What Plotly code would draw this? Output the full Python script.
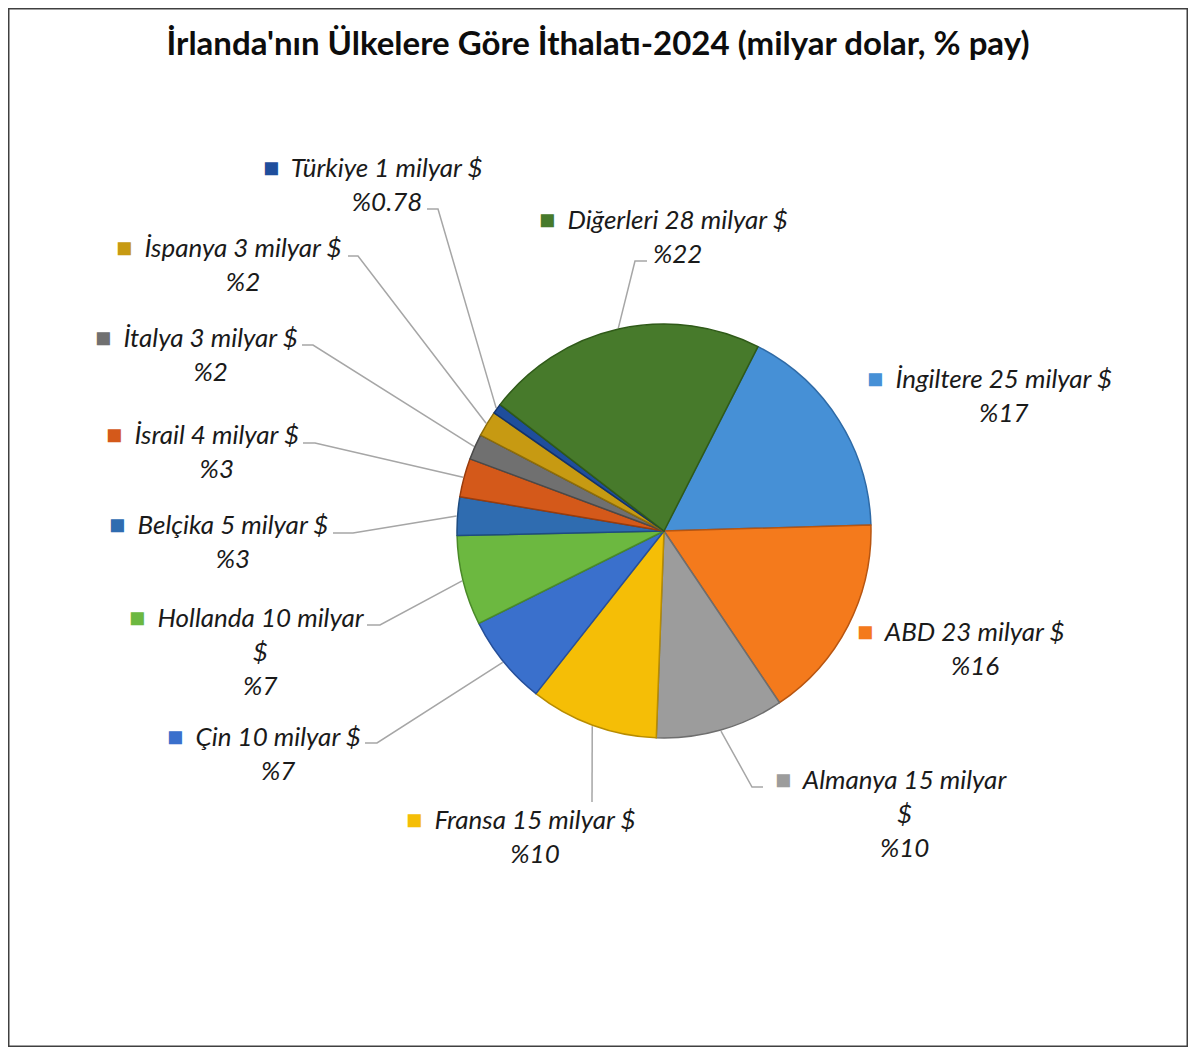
import math

import plotly.graph_objects as go

# --- data -------------------------------------------------------------
countries = [
    "İngiltere", "ABD", "Almanya", "Fransa", "Çin", "Hollanda",
    "Belçika", "İsrail", "İtalya", "İspanya", "Türkiye", "Diğerleri",
]
import_bn = [25, 23, 15, 15, 10, 10, 5, 4, 3, 3, 1, 28]
share_pct = [17, 16, 10, 10, 7, 7, 3, 3, 2, 2, 0.78, 22]

colors = [
    "#4690D6", "#F47A1C", "#9C9C9C", "#F5BE06", "#3A70CC", "#6CB840",
    "#2F6CB0", "#D4591A", "#707070", "#C79A12", "#1F4E9C", "#477A2B",
]
edge_colors = [
    "#2E6AA6", "#B85510", "#6E6E6E", "#B88C00", "#264F99", "#4A8A28",
    "#1E4C80", "#9A3C0C", "#4A4A4A", "#8E6D08", "#12326A", "#2F5A18",
]

# labels that Excel wrapped before the "$"
wrapped = {"Almanya", "Hollanda"}

# --- layout geometry (reference pixels) -------------------------------
W, H = 1196, 1055
BODY = 8                      # default page margin of the html body
FW, FH = W - 2 * BODY, H - 2 * BODY
CX, CY, R = 664, 531, 207     # pie centre and radius
ROTATION = 27

# first-line centre of every label (text only, without the key square)
label_pos = {
    "İngiltere": (1004, 379), "ABD": (975, 632), "Almanya": (905, 780),
    "Fransa": (535, 820), "Çin": (278, 737), "Hollanda": (260, 618),
    "Belçika": (233, 525), "İsrail": (217, 435), "İtalya": (210, 338),
    "İspanya": (243, 248), "Türkiye": (387, 168), "Diğerleri": (677, 220),
}
# leader lines: elbow point and end x of the short horizontal piece
leaders = {
    "Almanya": ((752, 787), 763), "Fransa": ((592, 802), 592),
    "Çin": ((377, 743), 365), "Hollanda": ((380, 625), 367),
    "Belçika": ((353, 533), 333), "İsrail": ((315, 443), 303),
    "İtalya": ((313, 345), 302), "İspanya": ((358, 256), 348),
    "Türkiye": ((438, 209), 427), "Diğerleri": ((635, 261), 647),
}
LINE_GAP = 33.8
TEXT_SHIFT = -1


def px(x, y):
    return (x - BODY) / FW, 1 - (y - BODY) / FH


fig = go.Figure()

x0, y1 = px(CX - R, CY - R)
x1, y0 = px(CX + R, CY + R)
fig.add_trace(
    go.Pie(
        labels=countries,
        values=share_pct,
        customdata=import_bn,
        sort=False,
        direction="clockwise",
        rotation=ROTATION,
        marker=dict(colors=colors, line=dict(color=edge_colors, width=1.5)),
        textinfo="none",
        hovertemplate="%{label}: %{customdata} milyar $<br>%%{value}<extra></extra>",
        showlegend=False,
        domain=dict(x=[x0, x1], y=[y0, y1]),
    )
)

total = sum(share_pct)
cum = 0.0
annotations = []
shapes = []
for name, bn, pct, col in zip(countries, import_bn, share_pct, colors):
    mid = math.radians(ROTATION + 360 * (cum + pct / 2) / total)
    cum += pct

    first = f"{name} {bn} milyar"
    lines = [first, "$"] if name in wrapped else [first + " $"]
    lines.append(f"%{pct:g}")
    key = "<span style='font-size:27px;color:{}'>■</span>"
    lines[0] = (
        key.format(col) + f"  {lines[0]}  " + key.format("rgba(0,0,0,0)")
    )
    text = "<i><span style='font-size:26px'>" + "<br>".join(lines) + "</span></i>"

    lx, ly = label_pos[name]
    ax, ay = px(lx, ly + TEXT_SHIFT + LINE_GAP * (len(lines) - 1) / 2)
    annotations.append(
        dict(
            x=ax, y=ay, xref="paper", yref="paper",
            text=text, showarrow=False,
            xanchor="center", yanchor="middle", align="center",
            font=dict(family="Lato, sans-serif", size=26, color="#1A1A1A"),
        )
    )

    if name in leaders:
        (ex, ey), endx = leaders[name]
        sx = CX + (R + 1) * math.sin(mid)
        sy = CY - (R + 1) * math.cos(mid)
        pts = [px(sx, sy), px(ex, ey), px(endx, ey)]
        path = "M {} {} L {} {} L {} {}".format(*[v for p in pts for v in p])
        shapes.append(
            dict(type="path", xref="paper", yref="paper", path=path,
                 line=dict(color="#A6A6A6", width=1.5), layer="below")
        )

# chart frame
shapes.append(
    dict(type="rect", xref="paper", yref="paper", x0=0, y0=0, x1=1, y1=1,
         line=dict(color="#404040", width=3))
)

tx, ty = px(598, 43)
fig.update_layout(
    width=FW,
    height=FH,
    margin=dict(l=0, r=0, t=0, b=0),
    paper_bgcolor="white",
    plot_bgcolor="white",
    title=dict(
        text="<b>İrlanda'nın Ülkelere Göre İthalatı-2024 (milyar dolar, % pay)</b>",
        x=tx, y=ty, xanchor="center", yanchor="middle",
        font=dict(family="Lato, sans-serif", size=33, color="#0D0D0D"),
    ),
    annotations=annotations,
    shapes=shapes,
)

fig.write_html("out.html")
